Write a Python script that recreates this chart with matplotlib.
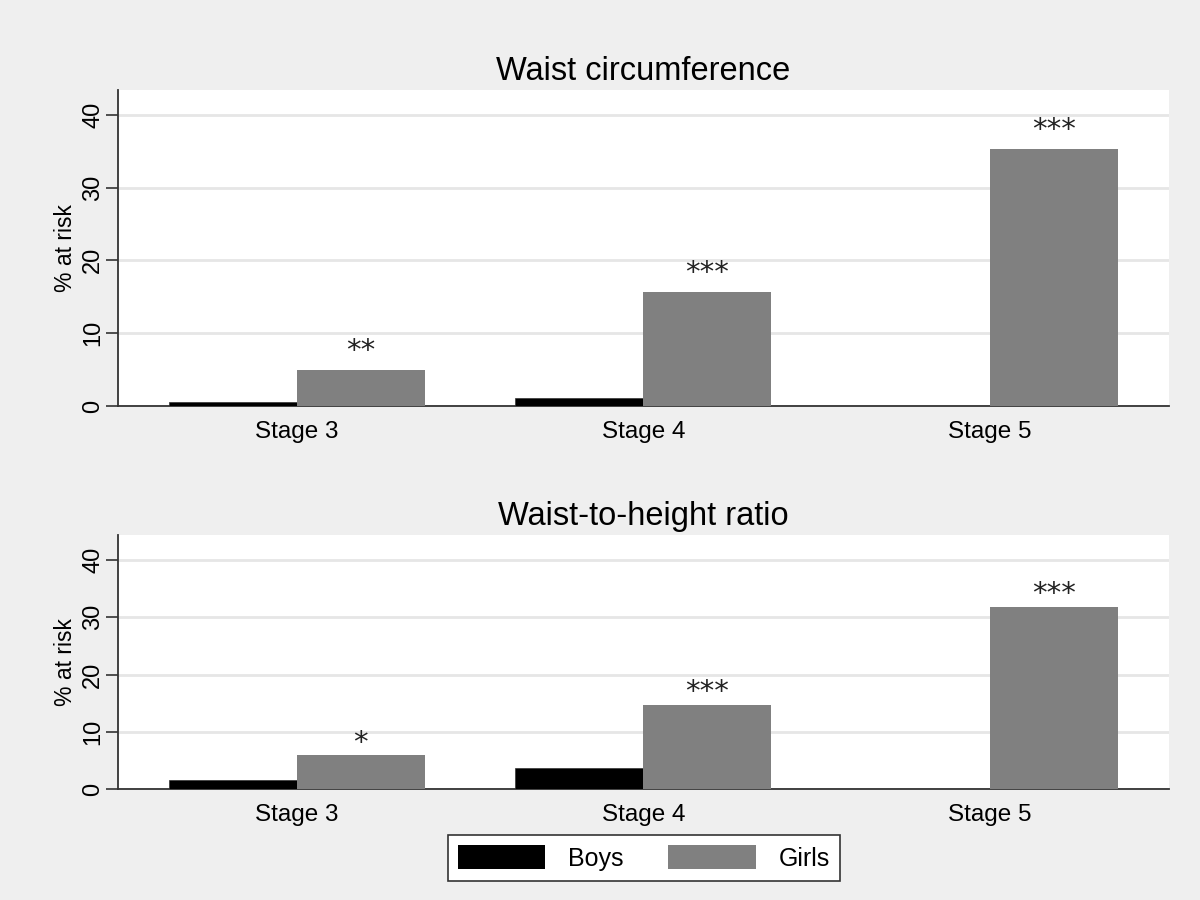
import numpy as np
import matplotlib.pyplot as plt
from matplotlib.patches import Patch

stages = ["Stage 3", "Stage 4", "Stage 5"]
titles = ["Waist circumference", "Waist-to-height ratio"]
boys_wc = [0.5, 1.05, 0.0]
girls_wc = [5.0, 15.7, 35.3]
boys_whr = [1.6, 3.6, 0.0]
girls_whr = [5.9, 14.7, 31.8]
stars_wc = ["**", "***", "***"]
stars_whr = ["*", "***", "***"]
yticks = [0, 10, 20, 30, 40]

bg = "#efefef"
black = "#000000"
grey = "#808080"
plt.rcParams["font.family"] = ["Liberation Sans", "DejaVu Sans"]

fig = plt.figure(figsize=(12, 9), dpi=100, facecolor=bg)
ax1 = fig.add_axes([0.0983, 0.5489, 0.8757, 0.3511])
ax2 = fig.add_axes([0.0983, 0.1233, 0.8757, 0.2823])

x = np.arange(len(stages))
w = 0.369

panels = [
    (ax1, titles[0], boys_wc, girls_wc, stars_wc, 43.4, 2.6),
    (ax2, titles[1], boys_whr, girls_whr, stars_whr, 44.4, 2.2),
]
for ax, title, boys, girls, stars, ytop, off in panels:
    ax.set_facecolor("white")
    ax.bar(x - w / 2, boys, w, color=black, edgecolor="#333333", linewidth=0.5, zorder=3)
    ax.bar(x + w / 2, girls, w, color=grey, edgecolor="none", zorder=3)
    for xi, g, s in zip(x, girls, stars):
        ax.text(xi + w / 2, g + off, s, ha="center", va="center",
                fontsize=21, family="DejaVu Sans", color="#222222", zorder=4)
    ax.set_xlim(-0.516, 2.516)
    ax.set_ylim(0, ytop)
    ax.set_yticks(yticks)
    ax.set_yticklabels([str(t) for t in yticks], rotation=90, va="center", fontsize=17)
    ax.yaxis.grid(True, color="#e6e6e6", linewidth=2, zorder=0)
    ax.set_xticks(x)
    ax.set_xticklabels(stages, fontsize=17.5)
    ax.tick_params(axis="x", length=0, pad=11)
    ax.tick_params(axis="y", length=9, width=1.2, color="#333333", pad=1)
    for sp in ["top", "right"]:
        ax.spines[sp].set_visible(False)
    for sp in ["left", "bottom"]:
        ax.spines[sp].set_color("#333333")
        ax.spines[sp].set_linewidth(1.3)
    ax.set_ylabel("% at risk", fontsize=16.5, labelpad=4)
    ax.set_title(title, fontsize=23.5, pad=7)

handles = [Patch(facecolor=black, label="Boys"), Patch(facecolor=grey, label="Girls")]
leg = fig.legend(handles=handles, loc="center", bbox_to_anchor=(0.5365, 0.0467), ncol=2,
                 fontsize=18, frameon=True, fancybox=False, handlelength=3.5,
                 handleheight=1.1, columnspacing=1.8, handletextpad=0.9, borderpad=0.4,
                 borderaxespad=0)
leg.get_frame().set_edgecolor("#333333")
leg.get_frame().set_facecolor("white")
leg.get_frame().set_alpha(1)
leg.get_frame().set_linewidth(1.2)

fig.savefig("out.png", dpi=100, facecolor=bg)
